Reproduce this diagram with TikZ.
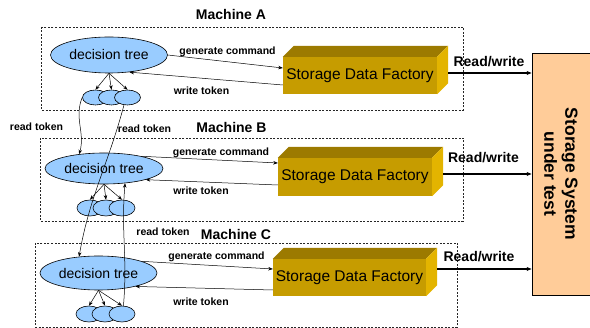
\documentclass[tikz,border=0pt]{standalone}
\usepackage{fontspec}
\setmainfont{Liberation Sans}
\usetikzlibrary{shapes.geometric,arrows.meta,calc}

\definecolor{treeblue}{RGB}{153,204,255}
\definecolor{sdffront}{RGB}{198,156,0}
\definecolor{sdftop}{RGB}{156,122,0}
\definecolor{sdfside}{RGB}{227,180,0}
\definecolor{sutfill}{RGB}{255,204,153}

\tikzset{
  machinebox/.style={draw=black!85, line width=0.8pt, dash pattern=on 2pt off 1.5pt},
  machinelabel/.style={font=\fontsize{14}{16}\selectfont\bfseries, inner sep=0pt},
  tree/.style={ellipse, draw, fill=treeblue, line width=0.6pt, inner sep=0pt,
    minimum width=117pt, minimum height=34pt, font=\fontsize{14}{16}\selectfont},
  leaf/.style={ellipse, draw, fill=treeblue, line width=0.6pt, inner sep=0pt,
    minimum width=26pt, minimum height=16pt},
  sdf/.style={rectangle, fill=sdffront, inner sep=0pt, minimum width=154pt,
    minimum height=37pt, font=\fontsize{15.5}{18}\selectfont},
  smalllabel/.style={font=\fontsize{10.5}{12}\selectfont\bfseries, inner sep=0pt},
  rwlabel/.style={font=\fontsize{14}{16}\selectfont\bfseries, inner sep=0pt},
  link/.style={line width=0.5pt, -{Stealth[length=4.5pt,width=3.5pt]}},
  rw/.style={line width=1.4pt, -{Stealth[length=5pt,width=4pt]}},
  sutbox/.style={rectangle, draw, fill=sutfill, line width=0.8pt, inner sep=0pt,
    minimum width=60pt, minimum height=242pt},
  sutlabel/.style={font=\fontsize{17.5}{21}\selectfont\bfseries, align=center,
    rotate=-90, inner sep=0pt},
}

% top and right faces of a storage data factory block
\newcommand{\sdffaces}[1]{%
  \fill[sdftop] (#1.north west) -- ++(11pt,11pt) -- ($(#1.north east)+(11pt,11pt)$)
    -- (#1.north east) -- cycle;
  \fill[sdfside] (#1.north east) -- ++(11pt,11pt) -- ($(#1.south east)+(11pt,11pt)$)
    -- (#1.south east) -- cycle;
}

\begin{document}
\begin{tikzpicture}[x=1pt, y=-1pt]
\useasboundingbox (0,0) rectangle (590,328);

% machine frames
\draw[machinebox] (41,27) rectangle (463,110);
\draw[machinebox] (40,138) rectangle (463,221);
\draw[machinebox] (35,243) rectangle (457,327);
\node[machinelabel] (mA) at (231,15) {Machine A};
\node[machinelabel] (mB) at (231.5,128) {Machine B};
\node[machinelabel] (mC) at (236,234) {Machine C};

% storage system under test
\node[sutbox] (sut) at (562,174) {};
\node[sutlabel] (suttext) at (561,174) {Storage System\\under test};

% storage data factories
\node[sdf] (sdfA) at (360,75.5) {Storage Data Factory};
\sdffaces{sdfA}
\node[sdf, minimum height=38pt] (sdfB) at (355,177) {Storage Data Factory};
\sdffaces{sdfB}
\node[sdf, minimum width=153pt] (sdfC) at (349.5,277.5) {Storage Data Factory};
\sdffaces{sdfC}

% decision trees and their leaves
\node[tree, minimum height=36pt] (dtA) at (109,55) {decision tree};
\node[leaf, minimum height=15pt] (lA1) at (95.5,97.5) {};
\node[leaf, minimum height=15pt] (lA2) at (111.5,97.5) {};
\node[leaf, minimum height=15pt] (lA3) at (127.5,97.5) {};

\node[tree, minimum width=118pt, minimum height=31pt] (dtB) at (104,168.5) {decision tree};
\node[leaf] (lB1) at (90,208) {};
\node[leaf] (lB2) at (106,208) {};
\node[leaf] (lB3) at (122,208) {};

\node[tree] (dtC) at (98.5,273) {decision tree};
\node[leaf] (lC1) at (89,314) {};
\node[leaf] (lC2) at (105,314) {};
\node[leaf] (lC3) at (122,314) {};

% tree to leaves
\foreach \m in {A,B,C}{
  \foreach \k in {1,2,3}{
    \draw[link] (dt\m.south) -- (l\m\k.north);
  }
}

% commands and tokens between tree and factory
\draw[link] (dtA.east) -- ([yshift=7.5pt]sdfA.west);
\draw[link] ([yshift=-9.5pt]sdfA.west) -- (dtA.-40);
\node[smalllabel] (gcA) at (227.5,52) {generate command};
\node[smalllabel] (wtA) at (201.5,91) {write token};

\draw[link] (dtB.18) -- ([yshift=14pt]sdfB.west);
\draw[link] ([yshift=-8pt]sdfB.west) -- (dtB.-15);
\node[smalllabel] (gcB) at (221,152.5) {generate command};
\node[smalllabel] (wtB) at (201,191) {write token};

\draw[link] (dtC.15) -- ([yshift=8.5pt]sdfC.west);
\draw[link] ([yshift=-12.5pt]sdfC.west) -- (dtC.-20);
\node[smalllabel] (gcC) at (216.5,256.5) {generate command};
\node[smalllabel] (wtC) at (201,302) {write token};

% tokens passed between machines
\draw[link] (lA1.west) to[out=-112, in=74] (dtB.150);
\draw[link] (lA3.-115) to[out=-105, in=80] (dtC.140);
\draw[link] (lC3.80) to[out=85, in=-95] (dtB.-35);
\node[smalllabel] (rt1) at (36.5,126.5) {read token};
\node[smalllabel] (rt2) at (144.5,128.5) {read token};
\node[smalllabel] (rt3) at (163,231.5) {read token};

% read/write traffic to the system under test
\coordinate (rwA) at ([xshift=11pt, yshift=2.5pt]sdfA.east);
\coordinate (rwB) at ([xshift=11pt, yshift=3pt]sdfB.east);
\coordinate (rwC) at ([xshift=11pt, yshift=8.5pt]sdfC.east);
\draw[rw] (rwA) -- (rwA -| sut.west);
\draw[rw] (rwB) -- (rwB -| sut.west);
\draw[rw] (rwC) -- (rwC -| sut.west);
\node[rwlabel] (rwlA) at (489,61.5) {Read/write};
\node[rwlabel] (rwlB) at (483.5,158) {Read/write};
\node[rwlabel] (rwlC) at (479,257) {Read/write};
\end{tikzpicture}
\end{document}
